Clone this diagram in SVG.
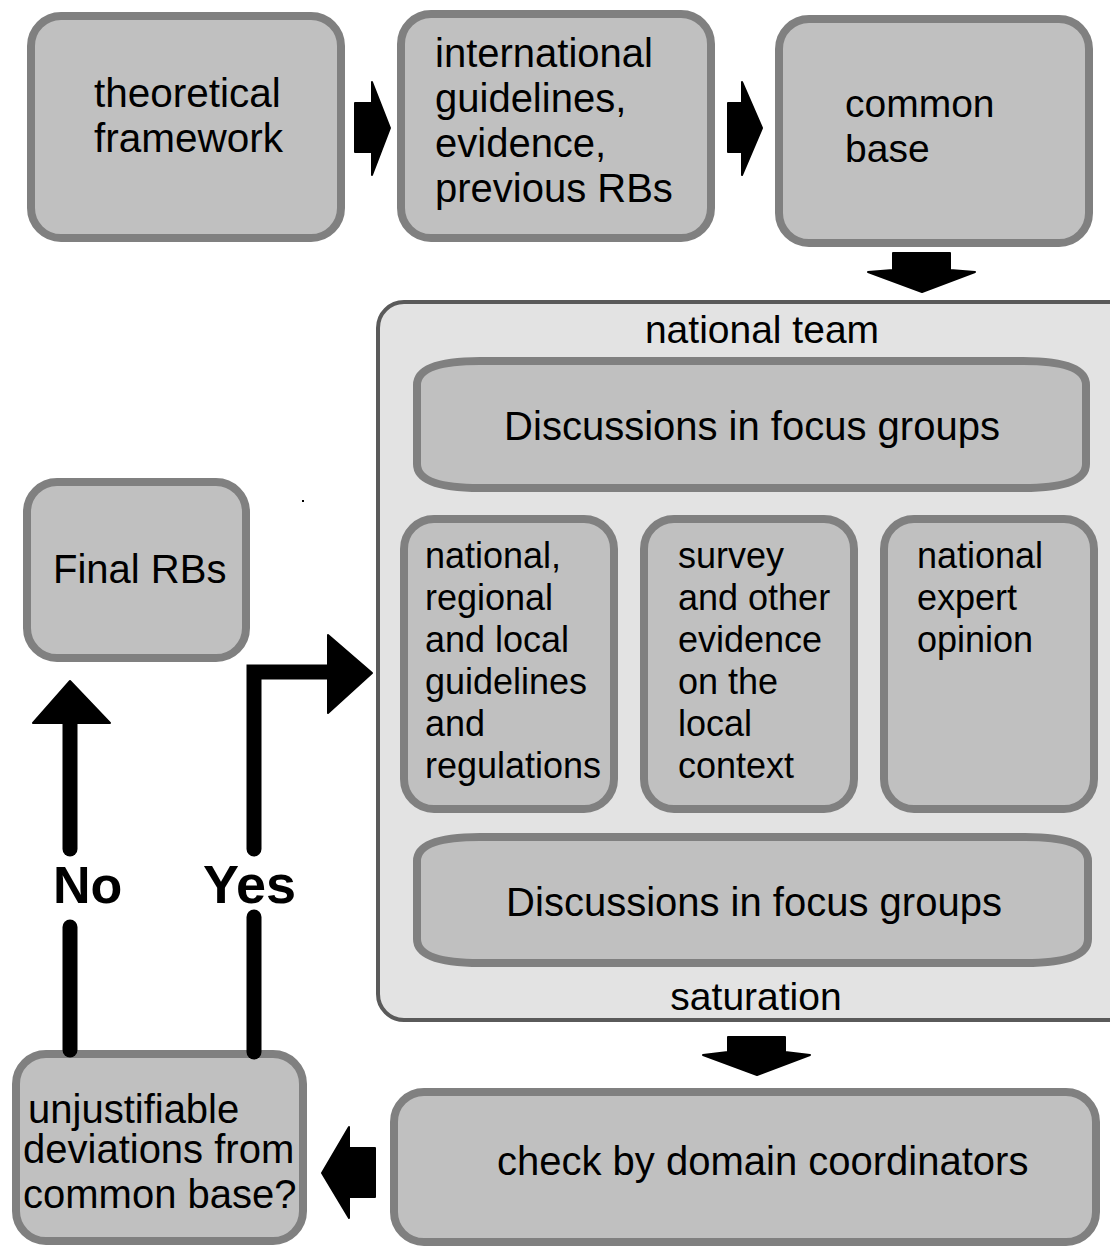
<svg xmlns="http://www.w3.org/2000/svg" width="1110" height="1246" viewBox="0 0 1110 1246">
<style>
.box{fill:#c0c0c0;stroke:#808080;stroke-width:8}
.cont{fill:#e3e3e3;stroke:#5a5a5a;stroke-width:4}
.t{font-family:"Liberation Sans",Arial,sans-serif;fill:#000}
.t39{font-size:39px}
.t40{font-size:40px}
.t36{font-size:36px}
.lbl{font-family:"Liberation Sans",Arial,sans-serif;font-weight:bold;fill:#000}
.arr{fill:#000;stroke:#000;stroke-width:2;stroke-linejoin:round}
.ln{fill:none;stroke:#000;stroke-width:15;stroke-linecap:round;stroke-linejoin:miter}
</style>
<rect width="1110" height="1246" fill="#fff"/>
<g id="theoretical">
<rect class="box" x="31" y="16" width="310" height="222" rx="30"/>
<text class="t" font-size="40.5"><tspan x="94" y="107">theoretical</tspan><tspan x="94" y="152">framework</tspan></text>
</g>
<g id="international">
<rect class="box" x="401" y="14" width="310" height="224" rx="30"/>
<text class="t t40"><tspan x="435" y="67">international</tspan><tspan x="435" y="112">guidelines,</tspan><tspan x="435" y="157">evidence,</tspan><tspan x="435" y="202">previous RBs</tspan></text>
</g>
<g id="common">
<rect class="box" x="779" y="19" width="310" height="224" rx="30"/>
<text class="t t39"><tspan x="845" y="117">common</tspan><tspan x="845" y="162">base</tspan></text>
</g>
<g id="national-team">
<rect class="cont" x="378" y="302" width="760" height="718" rx="26"/>
<text class="t t39" x="762" y="343" text-anchor="middle">national team</text>
<text class="t t39" x="756" y="1010" text-anchor="middle">saturation</text>
</g>
<g id="focus1">
<path class="box" d="M417,385 Q417,361 480,361 L1023,361 Q1086,361 1086,385 L1086,464 Q1086,488 1023,488 L480,488 Q417,488 417,464 Z"/>
<text class="t t40" x="752" y="440" text-anchor="middle">Discussions in focus groups</text>
</g>
<g id="national-guidelines">
<rect class="box" x="404" y="519" width="210" height="290" rx="30"/>
<text class="t t36"><tspan x="425" y="568">national,</tspan><tspan x="425" y="610">regional</tspan><tspan x="425" y="652">and local</tspan><tspan x="425" y="694">guidelines</tspan><tspan x="425" y="736">and</tspan><tspan x="425" y="778">regulations</tspan></text>
</g>
<g id="survey">
<rect class="box" x="644" y="519" width="210" height="290" rx="30"/>
<text class="t t36"><tspan x="678" y="568">survey</tspan><tspan x="678" y="610">and other</tspan><tspan x="678" y="652">evidence</tspan><tspan x="678" y="694">on the</tspan><tspan x="678" y="736">local</tspan><tspan x="678" y="778">context</tspan></text>
</g>
<g id="expert">
<rect class="box" x="884" y="519" width="210" height="290" rx="30"/>
<text class="t t36"><tspan x="917" y="568">national</tspan><tspan x="917" y="610">expert</tspan><tspan x="917" y="652">opinion</tspan></text>
</g>
<g id="focus2">
<path class="box" d="M417,861 Q417,837 480,837 L1025,837 Q1088,837 1088,861 L1088,939 Q1088,963 1025,963 L480,963 Q417,963 417,939 Z"/>
<text class="t t40" x="754" y="916" text-anchor="middle">Discussions in focus groups</text>
</g>
<g id="final">
<rect class="box" x="27" y="482" width="219" height="176" rx="30"/>
<text class="t t40" x="53" y="583">Final RBs</text>
</g>
<g id="decision">
<rect class="box" x="16" y="1054" width="287" height="187" rx="30"/>
<text class="t t40"><tspan x="28" y="1123">unjustifiable</tspan><tspan x="23" y="1163">deviations from</tspan><tspan x="23" y="1208">common base?</tspan></text>
</g>
<g id="check">
<rect class="box" x="394" y="1092" width="702" height="150" rx="30"/>
<text class="t t40" x="497" y="1175">check by domain coordinators</text>
</g>
<rect x="302" y="500" width="2" height="2" fill="#000"/>
<g id="connectors">
<polygon class="arr" points="355,103 372,103 372,82 390,128 372,175 372,152 355,152"/>
<polygon class="arr" points="728,103 742,103 742,82 762,128 742,175 742,152 728,152"/>
<polygon class="arr" points="893,253 950,253 950,270 975,272 922,292 868,272 893,270"/>
<polygon class="arr" points="728,1037 785,1037 785,1052 810,1055 757,1075 703,1055 728,1052"/>
<polygon class="arr" points="375,1148 349,1148 349,1127 322,1173 349,1218 349,1197 375,1197"/>
<path class="ln" d="M70,1050 L70,927"/>
<path class="ln" d="M70,849 L70,722"/>
<polygon class="arr" points="33,723 110,723 70,681"/>
<path class="ln" d="M254,1052 L254,917"/>
<path class="ln" d="M254,849 L254,672 L330,672"/>
<polygon class="arr" points="328,635 372,673 328,713"/>
<text class="lbl" x="53" y="903" style="font-size:52px">No</text>
<text class="lbl" x="203" y="903" style="font-size:54px">Yes</text>
</g>
</svg>
